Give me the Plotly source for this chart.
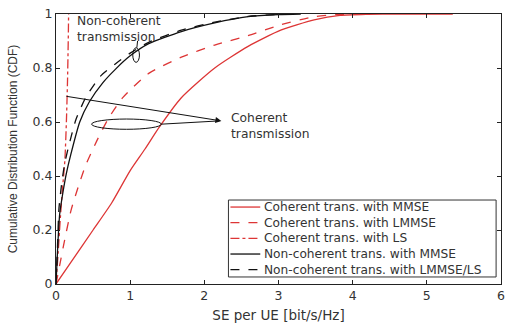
import plotly.graph_objects as go

# Coherent transmission with MMSE (red solid)
coh_mmse_x = [0, 0.2, 0.5, 0.75, 1.0, 1.2, 1.39, 1.69, 2.14, 2.59, 3.03, 3.48, 3.83, 4.2, 4.6, 5.35]
coh_mmse_y = [0, 0.08, 0.2, 0.3, 0.42, 0.5, 0.58, 0.69, 0.80, 0.88, 0.94, 0.978, 0.995, 0.999, 1.0, 1.0]

# Coherent transmission with LMMSE (red dashed)
coh_lmmse_x = [0, 0.05, 0.1, 0.2, 0.3, 0.4, 0.55, 0.7, 0.9, 1.25, 1.69, 2.14, 2.59, 3.03, 3.48, 3.8, 4.0]
coh_lmmse_y = [0, 0.07, 0.14, 0.27, 0.36, 0.44, 0.53, 0.61, 0.69, 0.78, 0.84, 0.885, 0.92, 0.96, 0.99, 0.998, 1.0]

# Coherent transmission with LS (red dash-dot)
coh_ls_x = [0, 0.03, 0.06, 0.09, 0.12, 0.14, 0.155, 0.165, 0.17]
coh_ls_y = [0, 0.12, 0.25, 0.36, 0.46, 0.6, 0.75, 0.9, 1.0]

# Non-coherent transmission with MMSE (black solid)
nc_mmse_x = [0, 0.02, 0.05, 0.1, 0.14, 0.2, 0.32, 0.45, 0.63, 0.8, 1.0, 1.25, 1.69, 2.14, 2.59, 3.0, 3.3]
nc_mmse_y = [0, 0.12, 0.26, 0.35, 0.41, 0.48, 0.6, 0.675, 0.745, 0.795, 0.845, 0.89, 0.935, 0.967, 0.99, 0.998, 1.0]

# Non-coherent transmission with LMMSE/LS (black dashed)
nc_lmmse_x = [0, 0.02, 0.04, 0.08, 0.12, 0.18, 0.27, 0.4, 0.6, 0.8, 1.0, 1.25, 1.69, 2.14, 2.59, 3.0, 3.3]
nc_lmmse_y = [0, 0.14, 0.28, 0.38, 0.45, 0.52, 0.61, 0.69, 0.77, 0.815, 0.855, 0.895, 0.94, 0.97, 0.991, 0.998, 1.0]

names = [
    "Coherent trans. with MMSE",
    "Coherent trans. with LMMSE",
    "Coherent trans. with LS",
    "Non-coherent trans. with MMSE",
    "Non-coherent trans. with LMMSE/LS",
]

x_ticks = [0, 1, 2, 3, 4, 5, 6]
y_ticks = [0, 0.2, 0.4, 0.6, 0.8, 1]
y_tick_text = ["0", "0.2", "0.4", "0.6", "0.8", "1"]

RED = "#dd3535"
BLACK = "#111111"
TXT = "#333333"
WIDE = "DejaVu Sans, sans-serif"
NARROW = "Liberation Sans, Arial, sans-serif"

series = [
    (coh_mmse_x, coh_mmse_y, RED, "solid"),
    (coh_lmmse_x, coh_lmmse_y, RED, "dash"),
    (coh_ls_x, coh_ls_y, RED, "dashdot"),
    (nc_mmse_x, nc_mmse_y, BLACK, "solid"),
    (nc_lmmse_x, nc_lmmse_y, BLACK, "dash"),
]

fig = go.Figure()
for (xs, ys, col, dash), nm in zip(series, names):
    fig.add_trace(go.Scatter(
        x=xs, y=ys, mode="lines", name=nm, showlegend=False,
        line=dict(color=col, width=1.3, dash=dash, shape="spline", smoothing=0.6),
    ))

axis_common = dict(
    showgrid=False, zeroline=False, showline=True, linecolor="#222", linewidth=1,
    mirror="ticks", ticks="inside", ticklen=4, tickcolor="#222",
    ticklabeloverflow="allow",
)

fig.update_layout(
    width=506, height=327,
    margin=dict(l=56, r=1, t=14, b=43),
    paper_bgcolor="white", plot_bgcolor="white",
    font=dict(family=NARROW, size=13, color=TXT),
    xaxis=dict(range=[0, 6], tickvals=x_ticks,
               tickfont=dict(family=WIDE, size=12.5, color=TXT),
               title=dict(text="SE per UE [bit/s/Hz]", standoff=8,
                          font=dict(family=WIDE, size=13.5, color=TXT)),
               **axis_common),
    yaxis=dict(range=[0, 1], tickvals=y_ticks, ticktext=y_tick_text,
               tickfont=dict(family=WIDE, size=12.5, color=TXT),
               title=dict(text="Cumulative Distribution Function (CDF)", standoff=12,
                          font=dict(family=NARROW, size=12, color=TXT)),
               **axis_common),
    showlegend=False,
)

# Manual legend box (paper coordinates)
fig.add_shape(type="rect", xref="paper", yref="paper", x0=0.3875, x1=0.989, y0=0.026, y1=0.311,
              line=dict(color="#333", width=1), fillcolor="white", layer="above")
row_y = [0.285, 0.227, 0.169, 0.111, 0.053]
for (xs, ys, col, dash), nm, ry in zip(series, names, row_y):
    fig.add_shape(type="line", xref="paper", yref="paper", x0=0.392, x1=0.459, y0=ry, y1=ry,
                  line=dict(color=col, width=1.3, dash=dash), layer="above")
    fig.add_annotation(x=0.462, y=ry, xref="paper", yref="paper", xanchor="left", yanchor="middle",
                       text=nm, showarrow=False,
                       font=dict(family=WIDE, size=12.2, color=TXT))

# Ellipses marking curve groups
fig.add_shape(type="circle", xref="x", yref="y",
              x0=1.08 - 0.045, x1=1.08 + 0.045, y0=0.848 - 0.027, y1=0.848 + 0.027,
              line=dict(color=BLACK, width=1))
fig.add_shape(type="line", xref="x", yref="y", x0=1.09, y0=0.875, x1=1.1, y1=0.9,
              line=dict(color=BLACK, width=1))
fig.add_shape(type="circle", xref="x", yref="y",
              x0=0.48, x1=1.42, y0=0.573, y1=0.611,
              line=dict(color=BLACK, width=1))
fig.add_shape(type="line", xref="x", yref="y", x0=1.42, y0=0.592, x1=2.2, y1=0.604,
              line=dict(color=BLACK, width=1))

# Arrow to "Coherent transmission"
fig.add_annotation(x=2.23, y=0.604, ax=0.12, ay=0.696, xref="x", yref="y",
                   axref="x", ayref="y", text="", showarrow=True,
                   arrowhead=2, arrowsize=1.2, arrowwidth=1, arrowcolor=BLACK)

fig.add_annotation(x=2.33, y=0.585, xref="x", yref="y", xanchor="left", yanchor="middle",
                   text="Coherent<br>transmission", showarrow=False, align="left",
                   font=dict(family=WIDE, size=12.3, color=TXT))
fig.add_annotation(x=0.25, y=0.946, xref="x", yref="y", xanchor="left", yanchor="middle",
                   text="Non-coherent<br>transmission", showarrow=False, align="left",
                   font=dict(family=WIDE, size=12.3, color=TXT))

fig.write_html("out.html")
